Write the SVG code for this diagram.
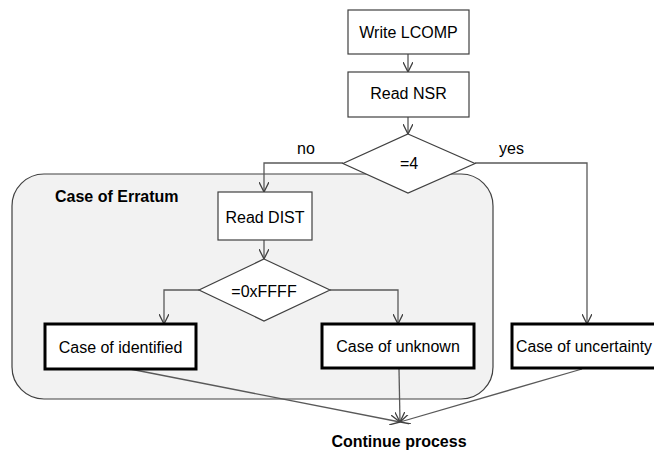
<svg xmlns="http://www.w3.org/2000/svg" width="654" height="451" viewBox="0 0 654 451">
<defs>
<style>
text{font-family:"Liberation Sans",Arial,sans-serif;font-size:16px;fill:#000}
.b{font-weight:bold}
.box{fill:#fff;stroke:#404040;stroke-width:1.2}
.thick{fill:#fff;stroke:#000;stroke-width:3}
.con{fill:none;stroke:#595959;stroke-width:1.3}
</style>
<marker id="ah" viewBox="0 0 10 10" refX="10" refY="5" markerWidth="10" markerHeight="10" markerUnits="userSpaceOnUse" orient="auto">
<path d="M0,0 L10,5 L0,10" fill="none" stroke="#404040" stroke-width="1.3"/>
</marker>
</defs>
<rect width="654" height="451" fill="#fff"/>
<g id="erratum">
<rect x="12" y="174" width="481" height="225" rx="32" ry="32" fill="#f2f2f2" stroke="#404040" stroke-width="1.2"/>
<text class="b" x="55" y="202">Case of Erratum</text>
</g>
<g id="connectors">
<line class="con" x1="408" y1="54" x2="408" y2="72" marker-end="url(#ah)"/>
<line class="con" x1="408" y1="117" x2="408" y2="134" marker-end="url(#ah)"/>
<polyline class="con" points="343,163 264,163 264,192" marker-end="url(#ah)"/>
<polyline class="con" points="475,163 587,163 587,324" marker-end="url(#ah)"/>
<line class="con" x1="264" y1="240" x2="264" y2="259" marker-end="url(#ah)"/>
<polyline class="con" points="199,290 164,290 164,324" marker-end="url(#ah)"/>
<polyline class="con" points="330,290 398,290 398,324" marker-end="url(#ah)"/>
<line class="con" x1="130" y1="369" x2="400" y2="422" marker-end="url(#ah)"/>
<line class="con" x1="399" y1="369" x2="400" y2="422" marker-end="url(#ah)"/>
<line class="con" x1="582" y1="369" x2="400" y2="422" marker-end="url(#ah)"/>
<text x="297" y="154">no</text>
<text x="499" y="154">yes</text>
</g>
<g id="write-lcomp">
<rect class="box" x="348" y="10" width="121" height="44"/>
<text x="408.5" y="38" text-anchor="middle">Write LCOMP</text>
</g>
<g id="read-nsr">
<rect class="box" x="348" y="72" width="121" height="45"/>
<text x="408.5" y="99" text-anchor="middle">Read NSR</text>
</g>
<g id="eq4">
<polygon class="box" points="408,134 475,163.5 408,193 343,163.5"/>
<text x="409" y="169" text-anchor="middle">=4</text>
</g>
<g id="read-dist">
<rect class="box" x="218" y="192" width="94" height="48"/>
<text x="265" y="223" text-anchor="middle">Read DIST</text>
</g>
<g id="eqffff">
<polygon class="box" points="264,259 330,290 264,321 199,290"/>
<text x="264" y="297" text-anchor="middle">=0xFFFF</text>
</g>
<g id="identified">
<rect class="thick" x="45" y="324" width="151" height="45"/>
<text x="120.5" y="353" text-anchor="middle">Case of identified</text>
</g>
<g id="unknown">
<rect class="thick" x="322" y="324" width="152" height="44"/>
<text x="398" y="352" text-anchor="middle">Case of unknown</text>
</g>
<g id="uncertainty">
<rect class="thick" x="512" y="324" width="160" height="44"/>
<text x="516" y="352" textLength="136" lengthAdjust="spacingAndGlyphs">Case of uncertainty</text>
</g>
<g id="continue">
<text class="b" x="399" y="447" text-anchor="middle">Continue process</text>
</g>
</svg>
